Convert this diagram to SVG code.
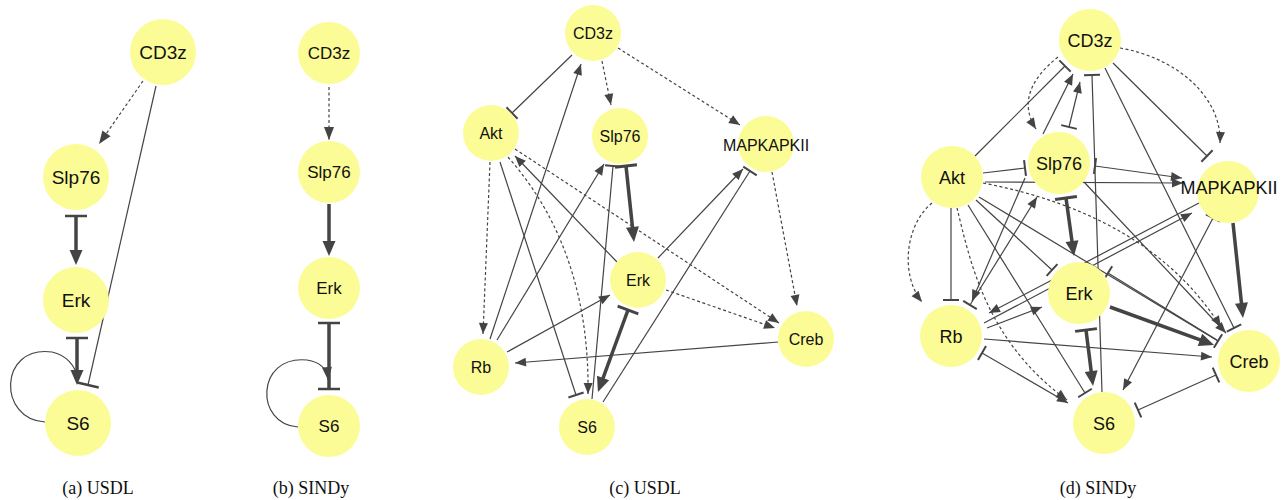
<svg xmlns="http://www.w3.org/2000/svg" width="1286" height="500" viewBox="0 0 1286 500">
<style>
.n circle{fill:#fcfc96;stroke:none}
.n text{font-family:"Liberation Sans",Arial,sans-serif;fill:#111;text-anchor:middle}
.e path{fill:none;stroke:#444;stroke-width:1.2}
.e .d{stroke-dasharray:3,2.5}
.e .k{stroke-width:3.5}
.cap{font-family:"Liberation Serif","Times New Roman",serif;font-size:18px;fill:#111;text-anchor:middle}
</style>
<defs>
<marker id="ah" markerUnits="userSpaceOnUse" markerWidth="12" markerHeight="10" refX="11" refY="4.5" orient="auto" overflow="visible"><path d="M0,0L11,4.5L0,9z" fill="#444"/></marker>
<marker id="ahA" markerUnits="userSpaceOnUse" markerWidth="14" markerHeight="11" refX="13" refY="5" orient="auto" overflow="visible"><path d="M0,0L13,5L0,10z" fill="#444"/></marker>
<marker id="ahL" markerUnits="userSpaceOnUse" markerWidth="16" markerHeight="14" refX="9" refY="6.5" orient="auto" overflow="visible"><path d="M0,0L15,6.5L0,13z" fill="#444"/></marker>
<marker id="tb" markerUnits="userSpaceOnUse" markerWidth="4" markerHeight="18" refX="1" refY="8" orient="auto" overflow="visible"><path d="M1,0V16" stroke="#444" stroke-width="2" fill="none"/></marker>
<marker id="tbA" markerUnits="userSpaceOnUse" markerWidth="4" markerHeight="24" refX="1" refY="11" orient="auto" overflow="visible"><path d="M1,0V22" stroke="#444" stroke-width="2.5" fill="none"/></marker>
<marker id="tbL" markerUnits="userSpaceOnUse" markerWidth="5" markerHeight="24" refX="1.5" refY="11" orient="auto" overflow="visible"><path d="M1.5,0V22" stroke="#444" stroke-width="3" fill="none"/></marker>
</defs>

<g id="connectors" class="e">
<!-- panel a -->
<path class="d" d="M143,81L99,144" marker-end="url(#ahA)"/>
<path class="k" d="M76,216L76,259" marker-start="url(#tbA)" marker-end="url(#ahL)"/>
<path class="k" d="M77,338L77,379" marker-start="url(#tbA)" marker-end="url(#ahL)"/>
<path d="M156,86L88,385" marker-end="url(#tbA)"/>
<path d="M45,422C-2,420 -2,345 52,352C66,355 76,366 77,378"/>
<!-- panel b -->
<path class="d" d="M329,87L329,140" marker-end="url(#ahA)"/>
<path class="k" d="M329,204L329,250" marker-end="url(#ahL)"/>
<path class="k" d="M329,323L329,389" marker-start="url(#tbA)" marker-end="url(#tbA)"/>
<path d="M298,427C255,425 255,355 307,360C320,362 327,368 328,380" marker-end="url(#ahA)"/>
<!-- panel c -->
<path d="M572,55L512,113" marker-end="url(#tb)"/>
<path class="d" d="M602,61L611,105" marker-end="url(#ah)"/>
<path class="d" d="M618,48L740,125" marker-end="url(#ah)"/>
<path d="M490,339L581,64" marker-end="url(#ah)"/>
<path d="M497,340L604,164" marker-end="url(#ah)"/>
<path class="d" d="M490,162L483,334" marker-end="url(#ah)"/>
<path d="M500,162L576,395" marker-end="url(#tb)"/>
<path class="d" d="M508,157Q590,250 588,394" marker-end="url(#ah)"/>
<path class="d" d="M515,149L779,323" marker-end="url(#ah)"/>
<path d="M617,262L515,156" marker-end="url(#ah)"/>
<path d="M592,399L613,166" marker-end="url(#tb)"/>
<path class="k" d="M626,166L633.4,236" marker-start="url(#tbL)" marker-end="url(#ahL)"/>
<path class="k" d="M628,310L600,386.4" marker-start="url(#tbL)" marker-end="url(#ahL)"/>
<path d="M603,402L750,171" marker-end="url(#tb)"/>
<path d="M658,258L743,169" marker-end="url(#ah)"/>
<path class="d" d="M772,172L797,306" marker-end="url(#ah)"/>
<path d="M778,342L515,363" marker-end="url(#ah)"/>
<path class="d" d="M666,290L775,328" marker-end="url(#ah)"/>
<path d="M507,352L610,295" marker-end="url(#ah)"/>
<!-- panel d -->
<path class="d" d="M1058,57Q1013,93 1036,129" marker-end="url(#ah)"/>
<path class="d" d="M1120,48C1178,58 1222,98 1220,143" marker-end="url(#ah)"/>
<path d="M975,156L1065,66" marker-end="url(#tb)"/>
<path d="M1043,134L1073,74" marker-end="url(#ah)"/>
<path d="M1069,127L1080,82" marker-start="url(#tb)" marker-end="url(#ah)"/>
<path d="M1102,392L1092,75" marker-end="url(#tb)"/>
<path d="M1113,63L1207,156" marker-end="url(#tb)"/>
<path d="M1105,68L1234,328" marker-end="url(#tb)"/>
<path d="M983,173L1025,168" marker-end="url(#tb)"/>
<path d="M985,182L1183,183" marker-end="url(#ah)"/>
<path d="M1095,166L1182,178" marker-start="url(#tb)" marker-end="url(#ah)"/>
<path class="d" d="M983,183Q1150,215 1221,327" marker-end="url(#ah)"/>
<path d="M976,200L1052,270" marker-end="url(#tb)"/>
<path d="M979,197L1218,341" marker-end="url(#tb)"/>
<path d="M968,205L1085,393" marker-end="url(#tb)"/>
<path class="d" d="M957,208C970,260 985,340 1067,400" marker-end="url(#ah)"/>
<path class="d" d="M932,203C905,225 900,275 922,302" marker-end="url(#ah)"/>
<path d="M951,208L951,300" marker-end="url(#tb)"/>
<path d="M1025,178L972,301" marker-end="url(#ah)"/>
<path d="M970,305L1037,197" marker-start="url(#tb)" marker-end="url(#ah)"/>
<path class="k" d="M1066,198L1073.2,250" marker-start="url(#tbL)" marker-end="url(#ahL)"/>
<path d="M1084,182L1226,333" marker-end="url(#ah)"/>
<path class="k" d="M1110,307L1208.4,342.9" marker-end="url(#ahL)"/>
<path d="M984,339L1212,357" marker-end="url(#ah)"/>
<path d="M1216,375L1138,410" marker-start="url(#tb)" marker-end="url(#tb)"/>
<path d="M982,353L1068,403" marker-start="url(#tb)" marker-end="url(#ah)"/>
<path class="k" d="M1086,330L1092.3,380" marker-start="url(#tbL)" marker-end="url(#ahL)"/>
<path class="k" d="M1233,223L1242.4,312" marker-end="url(#ahL)"/>
<path d="M1213,218L1123,390" marker-start="url(#tb)" marker-end="url(#ah)"/>
<path d="M1199,203L989,313" marker-end="url(#ah)"/>
<path d="M984,323L1192,213" marker-end="url(#ah)"/>
<path d="M987,328L1042,307" marker-end="url(#ah)"/>
<path d="M1217,340L1108,273" marker-end="url(#tb)"/>
</g>

<!-- panel a nodes -->
<g id="a-CD3z" class="n"><circle cx="163" cy="52" r="33"/><text x="163" y="59" font-size="19">CD3z</text></g>
<g id="a-Slp76" class="n"><circle cx="76" cy="177" r="33"/><text x="76" y="184" font-size="19">Slp76</text></g>
<g id="a-Erk" class="n"><circle cx="76" cy="300" r="33"/><text x="76" y="307" font-size="19">Erk</text></g>
<g id="a-S6" class="n"><circle cx="78" cy="423" r="33"/><text x="78" y="430" font-size="19">S6</text></g>
<!-- panel b nodes -->
<g id="b-CD3z" class="n"><circle cx="329" cy="53" r="31"/><text x="329" y="59" font-size="17">CD3z</text></g>
<g id="b-Slp76" class="n"><circle cx="329" cy="172" r="31"/><text x="329" y="178" font-size="17">Slp76</text></g>
<g id="b-Erk" class="n"><circle cx="329" cy="288" r="31"/><text x="329" y="294" font-size="17">Erk</text></g>
<g id="b-S6" class="n"><circle cx="329" cy="426" r="31"/><text x="329" y="432" font-size="17">S6</text></g>
<!-- panel c nodes -->
<g id="c-CD3z" class="n"><circle cx="593" cy="33" r="28"/><text x="593" y="39" font-size="16">CD3z</text></g>
<g id="c-Akt" class="n"><circle cx="491" cy="133" r="28"/><text x="491" y="139" font-size="16">Akt</text></g>
<g id="c-Slp76" class="n"><circle cx="620" cy="136" r="28"/><text x="620" y="142" font-size="16">Slp76</text></g>
<g id="c-MAPKAPKII" class="n"><circle cx="766" cy="144" r="28"/><text x="766" y="151" font-size="16">MAPKAPKII</text></g>
<g id="c-Erk" class="n"><circle cx="638" cy="280" r="28"/><text x="638" y="286" font-size="16">Erk</text></g>
<g id="c-Creb" class="n"><circle cx="806" cy="339" r="28"/><text x="806" y="345" font-size="16">Creb</text></g>
<g id="c-Rb" class="n"><circle cx="481" cy="367" r="28"/><text x="481" y="373" font-size="16">Rb</text></g>
<g id="c-S6" class="n"><circle cx="587" cy="427" r="28"/><text x="587" y="433" font-size="16">S6</text></g>
<!-- panel d nodes -->
<g id="d-CD3z" class="n"><circle cx="1090" cy="40" r="31"/><text x="1090" y="47" font-size="18">CD3z</text></g>
<g id="d-Slp76" class="n"><circle cx="1059" cy="163" r="31"/><text x="1059" y="170" font-size="18">Slp76</text></g>
<g id="d-Akt" class="n"><circle cx="952" cy="177" r="31"/><text x="952" y="184" font-size="18">Akt</text></g>
<g id="d-MAPKAPKII" class="n"><circle cx="1228" cy="192" r="31"/><text x="1229" y="194" font-size="18">MAPKAPKII</text></g>
<g id="d-Erk" class="n"><circle cx="1079" cy="293" r="31"/><text x="1079" y="300" font-size="18">Erk</text></g>
<g id="d-Rb" class="n"><circle cx="951" cy="336" r="31"/><text x="951" y="343" font-size="18">Rb</text></g>
<g id="d-Creb" class="n"><circle cx="1249" cy="361" r="31"/><text x="1249" y="368" font-size="18">Creb</text></g>
<g id="d-S6" class="n"><circle cx="1104" cy="423" r="31"/><text x="1104" y="430" font-size="18">S6</text></g>

<g id="captions">
<text class="cap" x="98" y="494">(a) USDL</text>
<text class="cap" x="311" y="494">(b) SINDy</text>
<text class="cap" x="645" y="494">(c) USDL</text>
<text class="cap" x="1098" y="494">(d) SINDy</text>
</g>
</svg>
